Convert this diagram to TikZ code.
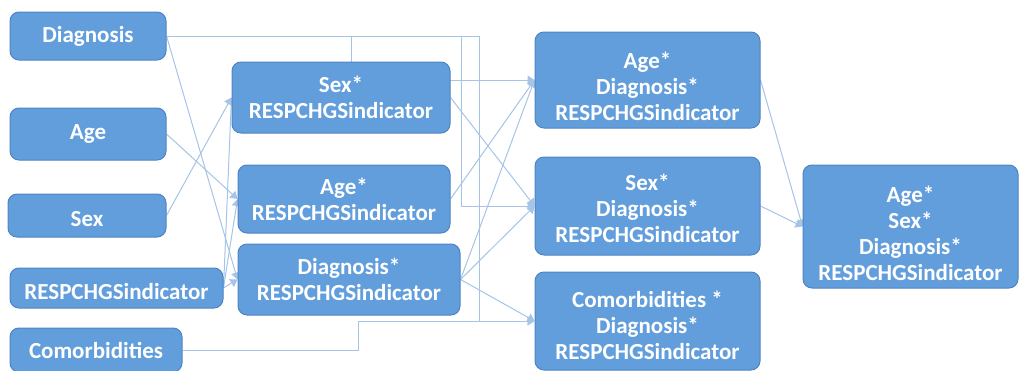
\documentclass[tikz,border=0pt]{standalone}
\usepackage{fontspec}
\setmainfont{Carlito}
\usetikzlibrary{arrows.meta}
\pgfdeclarelayer{bg}
\pgfsetlayers{bg,main}
\definecolor{boxfill}{RGB}{98,158,220}
\definecolor{boxedge}{RGB}{78,132,192}
\definecolor{linkc}{RGB}{165,196,230}
\tikzset{
  box/.style={draw=boxedge, fill=boxfill, rounded corners=9pt, text=white,
    font=\fontsize{23}{26}\selectfont\bfseries, align=center, inner sep=0pt, line width=1pt},
  txt/.style={text=white, font=\fontsize{23}{26}\selectfont\bfseries, align=center, inner sep=0pt},
  link/.style={draw=linkc, line width=1pt, -{Triangle[length=7pt,width=9pt]}}
}
\begin{document}
\begin{tikzpicture}[x=1pt,y=-1pt]
\useasboundingbox (0,0) rectangle (1020,370);
% inputs
\node[box, minimum width=156pt, minimum height=48pt] (diag) at (88,36) {Diagnosis};
\node[box, minimum width=156pt, minimum height=52pt] (age) at (88,134) {Age};
\node[box, minimum width=158pt, minimum height=43pt, text height=23pt] (sex) at (87,215.5) {Sex};
\node[box, minimum width=213pt, minimum height=40pt, text height=24pt] (resp) at (116.5,288) {RESPCHGSindicator};
\node[box, minimum width=172pt, minimum height=44pt] (comor) at (96,350) {Comorbidities};
% second column
\node[box, minimum width=218pt, minimum height=71pt] (sexr) at (341,97.5) {Sex*\\RESPCHGSindicator};
\node[box, minimum width=212pt, minimum height=68pt] (ager) at (344,199) {Age*\\RESPCHGSindicator};
\node[box, minimum width=222pt, minimum height=71pt] (diagr) at (349,279.5) {Diagnosis*\\RESPCHGSindicator};
% third column
\node[box, minimum width=225pt, minimum height=96pt] (agediag) at (647.5,80) {};
\node[txt] (agediagt) at ([yshift=-6pt]agediag.center) {Age*\\Diagnosis*\\RESPCHGSindicator};
\node[box, minimum width=225pt, minimum height=98pt] (sexdiag) at (647.5,206) {};
\node[txt] (sexdiagt) at ([yshift=-2pt]sexdiag.center) {Sex*\\Diagnosis*\\RESPCHGSindicator};
\node[box, minimum width=225pt, minimum height=98pt] (comdiag) at (647.5,321) {};
\node[txt] (comdiagt) at ([yshift=-4pt]comdiag.center) {Comorbidities *\\Diagnosis*\\RESPCHGSindicator};
% final
\node[box, minimum width=215pt, minimum height=123pt] (final) at (910.5,226.5) {};
\node[txt] (finalt) at ([yshift=-7pt]final.center) {Age*\\Sex*\\Diagnosis*\\RESPCHGSindicator};
% elbow columns
\coordinate (k1) at (351,0);
\coordinate (k2) at (461,0);
\coordinate (k3) at (479,0);
\coordinate (k4) at (358,0);
\begin{pgfonlayer}{bg}
% inputs to second column
\draw[link] (sex.east) -- (sexr.west);
\draw[link] (age.east) -- (ager.west);
\draw[link] (diag.east) -- (diagr.west);
\draw[link] (resp.east) -- (sexr.west);
\draw[link] (resp.east) -- (ager.west);
\draw[link] (resp.east) -- (diagr.west);
% diagnosis and comorbidities elbows
\draw[link] (diag.east) -- (diag.east -| k1) -- (k1 |- agediag.west) -- (agediag.west);
\draw[link] (diag.east) -- (diag.east -| k2) -- (k2 |- sexdiag.west) -- (sexdiag.west);
\draw[link] (diag.east) -- (diag.east -| k3) -- (k3 |- comdiag.west) -- (comdiag.west);
\draw[link] (comor.east) -- (comor.east -| k4) -- (k4 |- comdiag.west) -- (comdiag.west);
% second to third
\draw[link] (sexr.east) -- (sexdiag.west);
\draw[link] (ager.east) -- (agediag.west);
\draw[link] (diagr.east) -- (agediag.west);
\draw[link] (diagr.east) -- (sexdiag.west);
\draw[link] (diagr.east) -- (comdiag.west);
% third to final
\draw[link] (agediag.east) -- (final.west);
\draw[link] (sexdiag.east) -- (final.west);
\end{pgfonlayer}
\end{tikzpicture}
\end{document}
